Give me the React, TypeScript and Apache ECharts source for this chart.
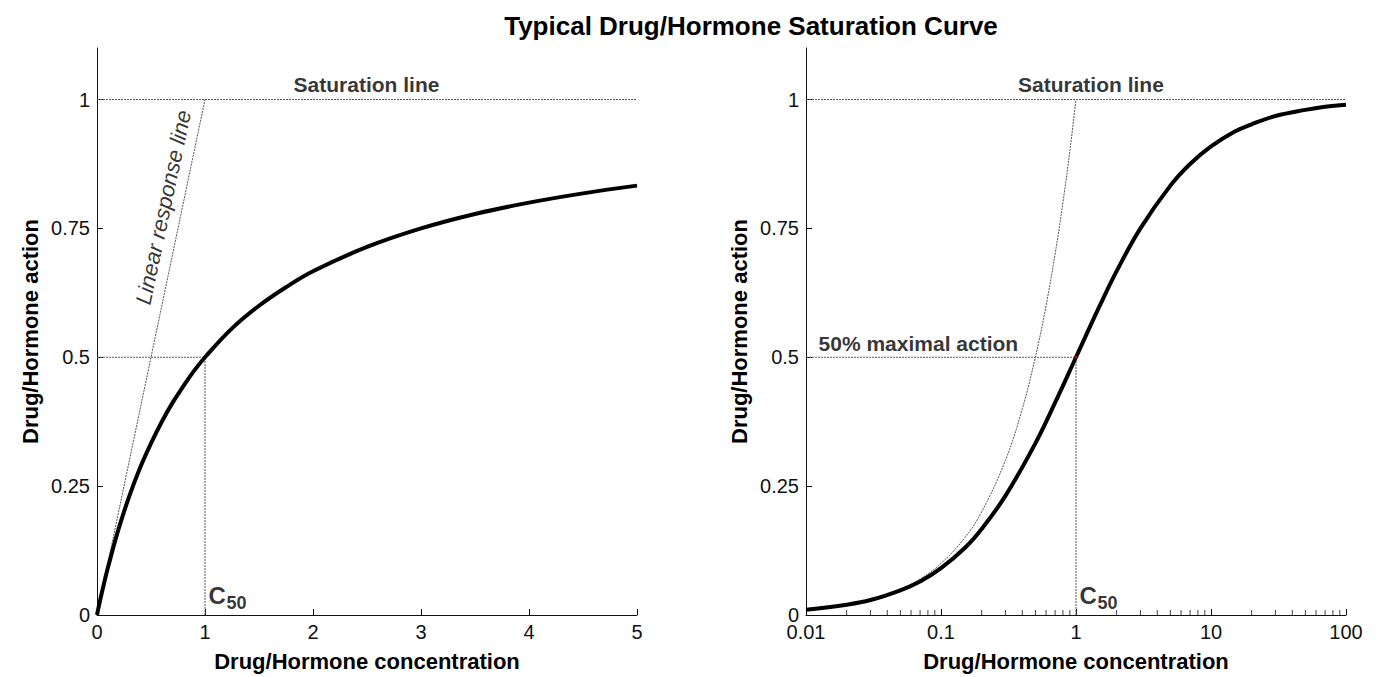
import React, { useEffect, useRef } from "react";
import * as echarts from "echarts";

const FONT = "'Liberation Sans', Arial, sans-serif";

const titleText = "Typical Drug/Hormone Saturation Curve";
const xAxisName = "Drug/Hormone concentration";
const yAxisName = "Drug/Hormone action";

const yTicks = [0, 0.25, 0.5, 0.75, 1];
const leftXTicks = [0, 1, 2, 3, 4, 5];
const rightMinorTicks = [
  0.02, 0.03, 0.04, 0.05, 0.06, 0.07, 0.08, 0.09,
  0.2, 0.3, 0.4, 0.5, 0.6, 0.7, 0.8, 0.9,
  2, 3, 4, 5, 6, 7, 8, 9,
  20, 30, 40, 50, 60, 70, 80, 90,
];

// Left panel (linear concentration)
const leftConc = [0, 0.02, 0.05, 0.1, 0.2, 0.3, 0.4, 0.5, 0.6, 0.7, 0.8, 0.9, 1, 1.25, 1.5, 1.75, 2, 2.5, 3, 3.5, 4, 4.5, 5];
const leftAction = [0, 0.02, 0.048, 0.091, 0.167, 0.231, 0.286, 0.333, 0.375, 0.412, 0.444, 0.474, 0.5, 0.556, 0.6, 0.636, 0.667, 0.714, 0.75, 0.778, 0.8, 0.818, 0.833];
const leftLinearConc = [0, 1];
const leftLinearAction = [0, 1];

// Right panel (log concentration)
const rightConc = [0.01, 0.02, 0.03, 0.05, 0.07, 0.1, 0.15, 0.2, 0.3, 0.5, 0.7, 1, 1.5, 2, 3, 5, 7, 10, 15, 20, 30, 50, 70, 100];
const rightAction = [0.01, 0.02, 0.029, 0.048, 0.065, 0.091, 0.13, 0.167, 0.231, 0.333, 0.412, 0.5, 0.6, 0.667, 0.75, 0.833, 0.875, 0.909, 0.938, 0.952, 0.968, 0.98, 0.986, 0.99];
const rightLinearConc = [0.01, 0.02, 0.03, 0.05, 0.07, 0.1, 0.15, 0.2, 0.3, 0.4, 0.5, 0.6, 0.7, 0.8, 0.9, 1];
const rightLinearAction = [0.01, 0.02, 0.03, 0.05, 0.07, 0.1, 0.15, 0.2, 0.3, 0.4, 0.5, 0.6, 0.7, 0.8, 0.9, 1];

const saturationLevel = 1;
const halfLevel = 0.5;
const c50 = 1;
const leftRange = [0, 5];
const rightRange = [0.01, 100];

const zip = (xs: number[], ys: number[]) => xs.map((x, i) => [x, ys[i]]);

const dotted = { color: "#555", width: 1, type: [2, 1] as number[] };

function App() {
  const ref = useRef<HTMLDivElement>(null);
  useEffect(() => {
    if (!ref.current) return;
    const chart = echarts.init(ref.current, null, { renderer: "svg" });

    const axisLabelStyle = { color: "#111", fontFamily: FONT, fontSize: 20 };
    const nameStyle = { color: "#000", fontFamily: FONT, fontSize: 22, fontWeight: "bold" as const };
    const axisLine = { show: true, lineStyle: { color: "#111", width: 1 } };
    const axisTick = { show: true, inside: true, length: 6, lineStyle: { color: "#111" } };

    const yAxisBase = (gridIndex: number) => ({
      type: "value" as const,
      gridIndex,
      min: 0,
      max: 1.1,
      interval: 0.25,
      name: yAxisName,
      nameLocation: "middle" as const,
      nameGap: 56,
      nameTextStyle: nameStyle,
      axisLine,
      axisTick: { ...axisTick, customValues: yTicks },
      axisLabel: { ...axisLabelStyle, margin: 7, customValues: yTicks },
      splitLine: { show: false },
    });

    const textLabel = (extra: any) => ({
      show: true,
      color: "#000",
      fontFamily: FONT,
      fontSize: 21,
      fontWeight: "bold",
      ...extra,
    });

    const labelPoint = (xi: number, data: number[], label: any) => ({
      type: "scatter" as const,
      xAxisIndex: xi,
      yAxisIndex: xi,
      symbolSize: 1,
      itemStyle: { color: "rgba(0,0,0,0)" },
      silent: true,
      data: [data],
      label,
      z: 10,
    });

    const cLabel = textLabel({ formatter: "C", fontSize: 24, position: [4, -31], align: "left", verticalAlign: "top" });
    const subLabel = textLabel({ formatter: "50", fontSize: 18, position: [22, -21], align: "left", verticalAlign: "top" });

    const lineSeries = (xi: number, data: number[][], style: any, smooth: boolean | number = false) => ({
      type: "line" as const,
      xAxisIndex: xi,
      yAxisIndex: xi,
      data,
      showSymbol: false,
      symbol: "none",
      smooth,
      silent: true,
      lineStyle: style,
    });

    const option: any = {
      animation: false,
      backgroundColor: "#fff",
      title: {
        text: titleText,
        left: 746,
        top: 8,
        textAlign: "center",
        textStyle: { fontFamily: FONT, fontSize: 26, fontWeight: "bold", color: "#000" },
      },
      grid: [
        { left: 97, top: 48, width: 540, height: 569 },
        { left: 806, top: 48, width: 540, height: 569 },
      ],
      xAxis: [
        {
          type: "value",
          gridIndex: 0,
          min: leftRange[0],
          max: leftRange[1],
          interval: 1,
          name: xAxisName,
          nameLocation: "middle",
          nameGap: 35,
          nameTextStyle: nameStyle,
          axisLine,
          axisTick: { ...axisTick, customValues: leftXTicks },
          axisLabel: { ...axisLabelStyle, margin: 7 },
          splitLine: { show: false },
        },
        {
          type: "log",
          logBase: 10,
          gridIndex: 1,
          min: rightRange[0],
          max: rightRange[1],
          name: xAxisName,
          nameLocation: "middle",
          nameGap: 35,
          nameTextStyle: nameStyle,
          axisLine,
          axisTick,
          minorTick: { show: false },
          axisLabel: { ...axisLabelStyle, margin: 7 },
          splitLine: { show: false },
        },
      ],
      yAxis: [yAxisBase(0), yAxisBase(1)],
      series: [
        // Left panel
        lineSeries(0, [[leftRange[0], saturationLevel], [leftRange[1], saturationLevel]], dotted),
        lineSeries(0, zip(leftLinearConc, leftLinearAction), dotted),
        lineSeries(0, [[leftRange[0], halfLevel], [c50, halfLevel]], dotted),
        lineSeries(0, [[c50, 0], [c50, halfLevel]], dotted),
        lineSeries(0, zip(leftConc, leftAction), { color: "#000", width: 4 }, 0.4),
        labelPoint(0, [2.5, saturationLevel], textLabel({ formatter: "Saturation line", position: [0, -4], align: "center", verticalAlign: "bottom" })),
        labelPoint(0, [0.62, 0.79], textLabel({ formatter: "Linear response line", fontWeight: "normal", fontStyle: "italic", fontSize: 22, position: [0, 0], align: "center", verticalAlign: "middle", rotate: 78 })),
        labelPoint(0, [c50, 0], cLabel),
        labelPoint(0, [c50, 0], subLabel),
        // Right panel
        lineSeries(1, [[rightRange[0], saturationLevel], [rightRange[1], saturationLevel]], dotted),
        lineSeries(1, zip(rightLinearConc, rightLinearAction), dotted, 0.4),
        lineSeries(1, [[rightRange[0], halfLevel], [c50, halfLevel]], dotted),
        lineSeries(1, [[c50, 0], [c50, halfLevel]], dotted),
        lineSeries(1, zip(rightConc, rightAction), { color: "#000", width: 4 }, 0.4),
        {
          type: "scatter",
          xAxisIndex: 1,
          yAxisIndex: 1,
          symbol: "rect",
          symbolSize: [1, 5],
          symbolOffset: [0, -2.5],
          itemStyle: { color: "#111" },
          silent: true,
          data: rightMinorTicks.map((v) => [v, 0]),
        },
        {
          type: "scatter",
          xAxisIndex: 1,
          yAxisIndex: 1,
          symbolSize: 3,
          itemStyle: { color: "#d00" },
          silent: true,
          data: [[c50, halfLevel]],
          z: 11,
        },
        labelPoint(1, [1.3, saturationLevel], textLabel({ formatter: "Saturation line", position: [0, -4], align: "center", verticalAlign: "bottom" })),
        labelPoint(1, [0.0125, halfLevel], textLabel({ formatter: "50% maximal action", position: [0, -3], align: "left", verticalAlign: "bottom" })),
        labelPoint(1, [c50, 0], cLabel),
        labelPoint(1, [c50, 0], subLabel),
      ],
    };

    chart.setOption(option);
    return () => chart.dispose();
  }, []);

  return (
    <div
      ref={ref}
      style={{ position: "absolute", left: 0, top: 0, width: 1379, height: 677, background: "#fff" }}
    />
  );
}

export default App;
